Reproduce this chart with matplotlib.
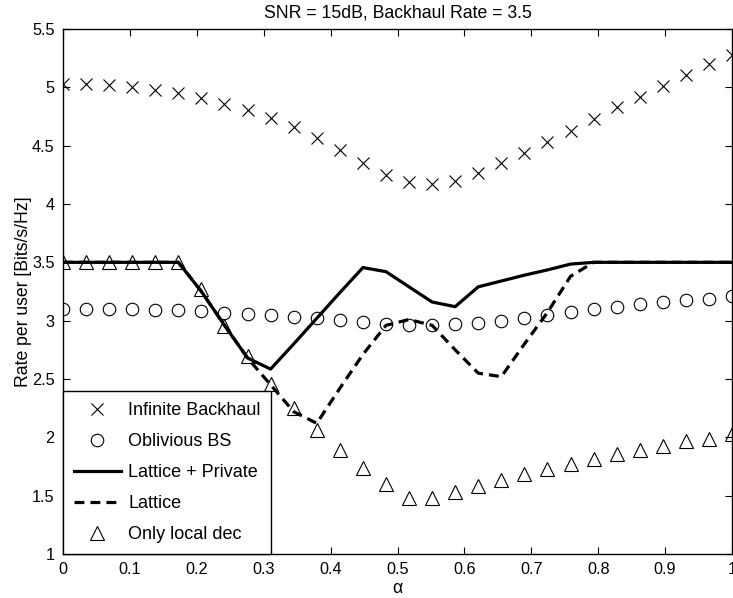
import numpy as np
import matplotlib
matplotlib.use("Agg")
from matplotlib import pyplot as plt
from matplotlib.ticker import FormatStrFormatter

plt.rcParams['font.family'] = ['Liberation Sans', 'DejaVu Sans']

# data
alpha = [0.0, 0.0345, 0.069, 0.1034, 0.1379, 0.1724, 0.2069, 0.2414, 0.2759, 0.3103,
         0.3448, 0.3793, 0.4138, 0.4483, 0.4828, 0.5172, 0.5517, 0.5862, 0.6207, 0.6552,
         0.6897, 0.7241, 0.7586, 0.7931, 0.8276, 0.8621, 0.8966, 0.931, 0.9655, 1.0]

infinite_backhaul = [5.03, 5.03, 5.02, 5.00, 4.98, 4.95, 4.91, 4.86, 4.81, 4.74,
                     4.66, 4.57, 4.46, 4.35, 4.25, 4.19, 4.17, 4.20, 4.27, 4.35,
                     4.44, 4.53, 4.63, 4.73, 4.83, 4.92, 5.01, 5.11, 5.20, 5.28]

oblivious_bs = [3.10, 3.10, 3.10, 3.10, 3.095, 3.09, 3.085, 3.07, 3.055, 3.05,
                3.03, 3.02, 3.005, 2.99, 2.97, 2.965, 2.965, 2.97, 2.98, 3.00,
                3.025, 3.05, 3.075, 3.10, 3.12, 3.14, 3.16, 3.175, 3.19, 3.21]

lattice_private = [3.5, 3.5, 3.5, 3.5, 3.5, 3.5, 3.25, 2.96, 2.68, 2.585,
                   2.80, 3.02, 3.24, 3.455, 3.42, 3.29, 3.16, 3.12, 3.29, 3.34,
                   3.39, 3.435, 3.485, 3.5, 3.5, 3.5, 3.5, 3.5, 3.5, 3.5]

lattice = [3.5, 3.5, 3.5, 3.5, 3.5, 3.5, 3.25, 2.96, 2.68, 2.45,
           2.22, 2.12, 2.42, 2.71, 2.96, 3.01, 2.96, 2.75, 2.55, 2.52,
           2.80, 3.07, 3.38, 3.5, 3.5, 3.5, 3.5, 3.5, 3.5, 3.5]

only_local = [3.5, 3.5, 3.5, 3.5, 3.5, 3.5, 3.27, 2.955, 2.70, 2.46,
              2.255, 2.06, 1.89, 1.736, 1.60, 1.478, 1.478, 1.535, 1.584, 1.636,
              1.685, 1.727, 1.77, 1.813, 1.856, 1.89, 1.927, 1.965, 1.99, 2.03]

fig = plt.figure(figsize=(7.33, 5.98), dpi=100)
ax = fig.add_axes([63 / 733, 1 - 554 / 598, (732 - 63) / 733, (554 - 29) / 598])

ax.plot(alpha, infinite_backhaul, 'x', color='k', markersize=8.5, markeredgewidth=0.8,
        label='Infinite Backhaul')
ax.plot(alpha, oblivious_bs, 'o', color='k', markerfacecolor='none', markersize=9,
        markeredgewidth=0.8, label='Oblivious BS')
ax.plot(alpha, lattice_private, '-', color='k', linewidth=2.3, label='Lattice + Private')
ax.plot(alpha, lattice, color='k', linewidth=2.3, linestyle=(0, (3.1, 1.9)),
        dash_capstyle='butt', label='Lattice')
ax.plot(alpha, only_local, '^', color='k', markerfacecolor='none', markersize=10,
        markeredgewidth=0.8, label='Only local dec')

ax.set_xlim(0, 1)
ax.set_ylim(1, 5.5)
ax.set_xticks(np.arange(0, 1.01, 0.1))
ax.set_yticks(np.arange(1, 5.51, 0.5))
ax.xaxis.set_major_formatter(FormatStrFormatter('%g'))
ax.yaxis.set_major_formatter(FormatStrFormatter('%g'))
ax.tick_params(direction='in', top=True, right=True, length=5, width=0.8,
               labelsize=11.7, pad=6)
for s in ax.spines.values():
    s.set_linewidth(1.0)

ax.set_title('SNR = 15dB, Backhaul Rate = 3.5', fontsize=12.7, pad=8)
ax.set_xlabel('\u03b1', fontsize=12.7, labelpad=2)
ax.set_ylabel('Rate per user [Bits/s/Hz]', fontsize=12.7, labelpad=0)

leg = ax.legend(loc='lower left', bbox_to_anchor=(0, 0), borderaxespad=0,
                fancybox=False, edgecolor='black', framealpha=1, fontsize=13,
                handlelength=2.6, handletextpad=0.4, labelspacing=0.78, borderpad=0.6)
leg.get_frame().set_linewidth(1.0)

fig.savefig('out.png', dpi=100)
